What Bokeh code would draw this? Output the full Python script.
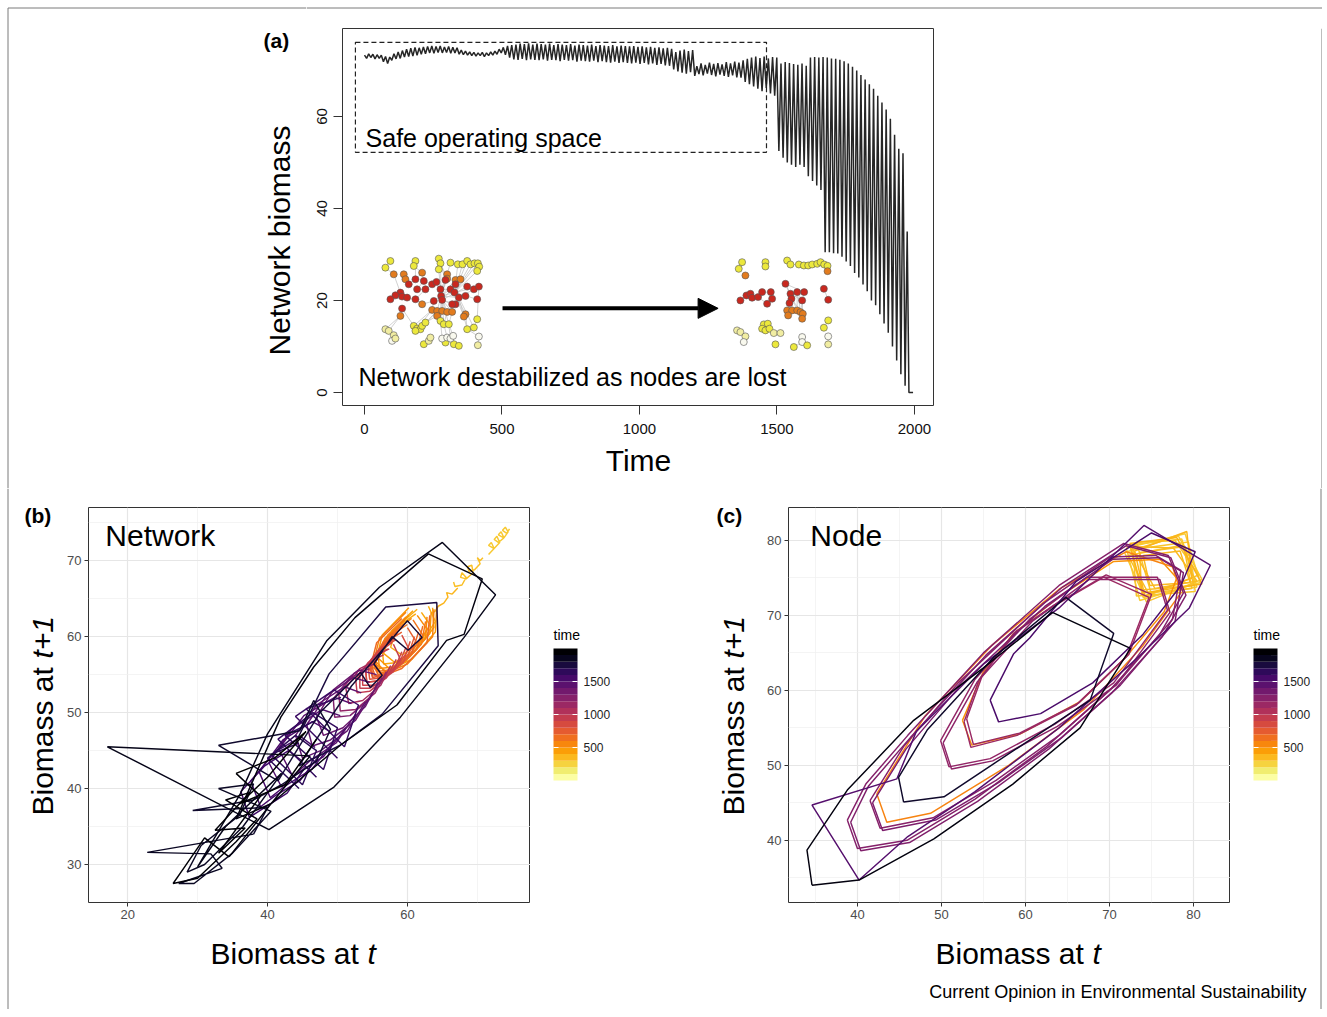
import numpy as np
from bokeh.plotting import figure
from bokeh.models import (Range1d, FixedTicker, Label, Arrow, NormalHead, ColumnDataSource,
                          BoxAnnotation, Span)
from bokeh.layouts import column, row
from bokeh.palettes import Inferno256
from bokeh.transform import linear_cmap
from bokeh.core.properties import value
from bokeh.embed import file_html
from bokeh.resources import INLINE

FONT = "Liberation Sans"

# ---------------- Panel (a): network biomass time series ----------------
a_start = 73.3
segA_trough = [72.6,72.8,72.5,72.6,71.9,71.5,72.2,72.5,72.6,72.9,73.0,73.1,73.3,73.5,73.6,73.8,73.7,73.9,
               73.8,73.9,73.7,73.8,73.5,73.4,73.3,73.2,73.1,73.2,73.0,73.2,73.3,73.5,73.8,73.4,72.8]
segA_peak = [73.6,73.5,73.4,73.3,73.0,72.9,73.6,74.0,74.3,74.6,74.8,75.0,74.9,75.1,75.2,75.3,75.2,75.3,
             75.1,75.2,75.0,74.9,74.4,74.2,74.0,73.9,73.8,73.9,73.8,74.0,74.2,74.6,75.0,75.3,75.5]
segB_trough = [72.4,72.3,72.5,72.2,72.4,72.3,72.2,72.4,72.1,72.3,72.2,72.0,72.3,72.1,72.2,71.9,72.1,72.0,71.9,
               72.1,71.8,72.0,71.8,71.7,71.9,71.6,71.8,71.6,71.5,71.7,71.4,71.6,71.3,71.5,71.2,71.4,71.1,71.0]
segB_peak = [75.6,75.8,75.7,75.9,75.6,75.8,75.7,75.6,75.8,75.5,75.7,75.6,75.5,75.7,75.4,75.6,75.5,75.4,75.6,
             75.3,75.5,75.4,75.3,75.5,75.2,75.4,75.3,75.2,75.3,75.1,75.2,75.0,75.1,74.9,75.0,74.8,74.9,74.7]
segC_trough = [70.2,69.8,69.5,69.3,69.6]
segC_peak = [74.0,74.3,74.5,74.2,74.4]
segD_trough = [68.8,69.2,68.9,69.3,69.0,68.7,69.1,68.8,68.6,68.9,68.5,68.4]
segD_peak = [70.9,71.5,71.2,71.7,71.4,71.6,71.3,71.8,71.5,71.9,71.7,72.2]
segE_trough = [67.5,67.0,66.5,66.0,65.5,66.2,65.0,64.5]
segE_peak = [72.5,72.8,73.0,72.7,73.0,72.6,72.9,72.8]
segF_trough = [52.5,51.0,50.0,49.5,49.0,49.5,49.0,47.0,46.0,45.0,44.0,30.5,30.5,30.3,30.2,29.5,28.5,27.5,
               26.0,25.0,23.5,22.0,20.0,19.0,17.0,15.0,13.0,10.0,7.0,4.0,1.5]
segF_peak = [71.5,71.8,71.6,71.4,71.2,71.5,71.0,72.8,72.9,72.8,72.9,72.8,72.6,72.5,72.3,72.0,71.5,70.8,
             70.0,69.0,68.0,67.0,66.0,64.5,63.0,61.5,59.5,56.0,53.0,52.0,35.0]
HALF_STEP = 7.65
a_end_time = [1980, 1995]
a_end_val = [0.0, 0.0]

a_vals = [a_start]
for tr, pk in [(segA_trough, segA_peak), (segB_trough, segB_peak), (segC_trough, segC_peak),
               (segD_trough, segD_peak), (segE_trough, segE_peak), (segF_trough, segF_peak)]:
    for lo, hi in zip(tr, pk):
        a_vals += [lo, hi]
a_time = list(np.arange(len(a_vals)) * HALF_STEP) + a_end_time
a_vals = a_vals + a_end_val

a_xticks = [0, 500, 1000, 1500, 2000]
a_yticks = [0, 20, 40, 60]

# network layouts (layout units) and node classes
net1_lx = [60,45,135,130,205,210,240,262,276,290,300,312,322,326,320,205,
           70,100,105,155,230,230,255,270,
           115,135,160,185,198,225,210,255,290,310,325,90,95,75,60,110,140,165,190,212,
           215,240,252,255,245,265,285,320,135,95,
           155,90,185,200,215,230,245,285,280,200,
           210,220,235,130,140,150,135,155,290,310,320,
           45,55,70,65,75, 160,175,180,225,250,265, 215,230,240,248,325, 322,165]
net1_ly = [35,55,35,50,28,42,40,45,45,35,45,42,42,52,65,60,
           75,75,90,70,75,88,92,90,
           105,90,95,105,98,92,120,105,112,120,112,130,142,138,150,145,120,120,155,140,
           152,120,130,165,165,145,140,150,150,178,
           165,200,182,185,185,188,188,195,202,200,
           215,225,225,230,238,240,245,230,240,235,210,
           240,245,258,275,268, 285,275,265,280,285,290, 268,265,268,260,262, 288,220]
net1_cls = "Y"*16 + "O"*8 + "R"*30 + "O"*10 + "Y"*11 + "PPPWP" + "YPPYYY" + "WWWWW" + "P" + "Y"
net1_edges = [(44,21),(44,30),(44,46),(44,47),(44,50),(44,58),(44,59),(44,60),(44,65),(44,16),(44,6),(44,29),
              (44,43),(44,31),(45,48),(45,61),(45,66),(45,67),(45,24),(45,33),(47,8),(47,9),(47,10),(47,11),
              (47,12),(47,13),(47,15),(47,62),(47,63),(47,51),(47,52),(50,73),(50,74),(50,34),(30,5),(30,7),
              (22,6),(25,18),(25,19),(26,3),(26,20),(27,41),(28,42),(36,37),(36,38),(36,17),(39,40),(40,53),
              (53,55),(54,56),(54,68),(56,76),(56,77),(57,68),(57,69),(58,70),(58,72),(64,93),(65,87),(66,88),
              (67,89),(67,90),(73,91),(74,75),(75,35),(78,79),(78,80),(76,78),(81,82),(82,83),(84,87),(85,86),
              (86,89),(62,73),(33,34),(1,2),(3,4),(17,2),(20,27),(42,53),(43,57),(49,61),(48,60),(91,92),
              (12,14),(9,8),(10,11),(69,71),(68,70),(4,20),(44,22),(44,23),(45,49),(47,32),(47,35),(30,31),
              (41,42),(27,28),(31,46),(46,32),(43,55),(59,65),(60,66),(61,67)]
net2_lx = [1110,1120,1190,1190,1255,1265,1290,1305,1318,1330,1345,1355,1366,1376,1376,1130,
           1115,1133,1145,1150,1168,1180,1206,1195,1210,
           1250,1265,1268,1285,1306,1300,1262,
           1255,1270,1285,1295,1302,1258,1300,
           1365,1378,1378,1365,1378,1378,
           1105,1115,1130,1125,
           1185,1197,1180,1190,1202,1215,1235,1220,1275,1300,1300,1315]
net2_ly = [55,35,35,48,30,42,42,45,45,42,40,35,42,46,62,75,
           150,135,130,142,140,125,125,160,145,
           100,130,145,125,125,150,158,
           180,180,180,185,190,195,205,
           115,148,210,232,258,282,
           240,245,258,275,
           222,220,235,240,235,248,248,282,290,260,275,285]
net2_cls = "Y"*14 + "OO" + "R"*16 + "O"*7 + "RR" + "YY" + "W" + "P" + "PPP" + "W" + "Y"*5 + "PP" + "YY" + "WW" + "Y"
net2_edges = [(1,2),(3,4),(5,6),(6,7),(7,8),(8,9),(9,10),(10,11),(11,12),(12,13),(13,14),(14,15),(11,14),(10,14),
              (17,18),(18,19),(19,20),(20,21),(21,22),(22,23),(23,25),(24,21),(24,25),(19,21),(26,27),(26,28),
              (27,29),(28,30),(29,31),(27,31),(28,32),(32,33),(28,34),(29,35),(30,36),(31,37),(27,38),(29,39),
              (33,34),(34,35),(35,36),(40,41),(42,43),(44,45),(46,47),(47,48),(48,49),(50,51),(51,52),(52,53),
              (53,54),(54,55),(55,56),(50,54),(59,60),(60,61),(58,60),(26,30),(27,35),(28,37)]
NODE_COLORS = {"Y": "#ece83c", "O": "#e27b1d", "R": "#c9281f", "P": "#f1eda2", "W": "#f9f9ee"}

# ---------------- Panel (b): network lag plot ----------------
# biomass cycles (consecutive values); x = B(t), y = B(t+1)
b_cycles = [
    [74.6,74.2,73.6,74.0,74.4,73.8,73.0,73.4,73.8,73.0,72.4,72.8,73.2,72.4,71.6,72.0,72.4,71.6,70.8],
    [70.8,70.4,70.0,70.4,69.6,68.8,68.6,69.2,69.4,68.4,67.6,67.8,68.4,67.8,66.8,66.6,67.2],
    [67.2,66.4,65.6,65.8,65.2,64.4,64.0,63.4,63.0],
    [63.0,64.0,62.0,59.2,57.6,58.6,61.4,63.6],
    [62.0,63.2,61.6,58.6,56.6,56.4,58.4,61.2,63.0],
    [63.6,63.8,61.2,58.2,56.6,57.8,60.8,63.4],
    [64.2,64.0,60.6,57.0,55.4,56.4,60.2,63.8],
    [63.4,63.2,60.4,57.4,55.8,57.2,60.2,62.8],
    [61.4,62.8,61.0,58.0,56.0,55.8,57.8,60.6,62.4],
    [62.8,62.6,59.8,56.8,55.4,56.8,59.8,62.6],
    [63.8,63.6,60.0,56.4,55.0,56.0,59.8,63.2],
    [62.6,62.0,59.0,56.2,55.2,56.8,59.6,62.2],
    [60.8,62.2,60.2,57.4,55.6,55.4,57.4,60.0,61.6],
    [62.2,61.4,58.4,55.8,55.0,56.6,59.4,61.6],
    [63.2,62.8,59.2,55.8,54.6,55.6,59.2,62.4],
    [61.6,60.6,57.8,55.4,54.8,56.4,59.0,61.0],
    [60.0,61.2,59.4,56.6,55.0,54.8,56.8,59.2,60.6],
    [61.0,60.0,57.2,55.0,54.6,56.2,58.6,60.4],
    [60.4,59.4,56.6,54.6,54.4,56.0,58.2,59.8],
    [59.2,60.2,58.4,55.8,54.2,54.0,56.0,58.4,59.6],
    [59.8,58.6,56.0,54.2,54.0,55.6,57.8,59.2],
    [59.2,58.0,55.4,53.6,53.6,55.2,57.2,58.4],
    [58.0,59.0,57.0,54.6,53.2,53.2,55.2,57.4,58.4],
    [58.4,57.0,54.6,52.8,52.6,54.4,56.6,57.6],
    [57.6,56.2,53.6,51.6,51.2,53.2,55.8,57.0],
    [57.0,55.4,52.6,50.4,50.2,52.4,55.2,56.4],
    [56.4,54.6,51.8,49.6,49.4,51.8,54.6,55.8],
    [55.8,54.0,50.8,48.0,47.0,49.4,53.0,55.6,55.0],
    [55.0,52.6,49.0,46.4,45.6,48.4,52.2,54.6,54.0],
    [54.0,51.4,47.6,45.0,44.0,47.0,51.0,53.4,52.6],
    [52.6,49.8,46.0,43.6,41.6,45.2,49.6,52.0,51.2],
    [51.2,48.0,44.2,42.0,40.2,43.4,47.8,50.4,49.6],
    [49.6,46.4,42.6,40.4,38.8,42.2,46.4,48.8,47.6],
    [47.6,44.6,41.0,39.0,37.6,41.0,44.8,46.8,45.4],
    [45.4,42.8,39.4,37.4,36.2,39.6,43.0,45.0,43.6],
    [50.0,44.0,49.5,53.0,51.0,45.5,50.5,52.0],
    [47.0,41.5,46.5,50.0,48.0,42.5,47.0,49.0],
    [44.5,40.0,44.0,47.0,45.0,40.5,44.5,46.0],
]
b_cycle_t = [250,290,330, 360,390,415,440,470,500,525,550,580,610,635,660,690,720,745,800,830,855,910,940,965,
             1100,1200,1300, 1400,1430,1460,1490,1520,1550,1580,1610,1640,1670,1700]
b_black_x = [
    [44.0,48.8,56.9,64.2,64.4,56.4,50.4,44.5],
    [44.5,52.0,60.0,62.1,60.1,57.8,55.2,56.4,54.7,53.3,47.5,41.5],
    [41.5,33.0,44.6,46.6,49.0,47.0,42.0,38.0,29.3,40.0,38.0],
    [38.0,22.8,31.9,33.5,27.3,29.5,35.0,40.5,33.0,38.0,36.0,30.5,28.5,31.0,36.5,42.0],
    [42.0,34.0,30.0,36.1,40.0,44.2,48.5,56.0,65.0,72.6,68.1,59.0,49.5,40.2,17.1,46.1],
    [46.1,40.5,35.5,41.9,46.6,52.5,63.0,70.7,68.1,65.6,58.5,50.4,40.5,34.5],
    [34.5,31.0,28.0,26.5,30.0,35.5,38.5,34.0,37.5,32.5,36.8,33.0,39.0,35.5],
    [35.5,41.0,45.5,40.0,36.0,42.5,47.0],
]
b_black_y = [
    [46.0,55.1,63.9,64.5,58.8,49.8,45.7,43.0],
    [43.0,53.5,62.1,59.9,58.2,60.0,56.4,54.9,53.3,55.3,50.0,41.0],
    [41.0,45.7,47.6,51.6,47.8,43.6,40.5,38.5,37.1,37.5,34.0],
    [34.0,31.6,31.4,29.5,27.5,27.5,31.5,37.0,40.0,40.6,36.5,32.5,29.0,30.0,35.0,42.0],
    [42.0,35.0,29.7,39.3,47.2,53.3,59.5,66.5,72.4,65.5,59.9,49.4,40.2,34.6,45.5,44.3],
    [44.3,38.0,36.0,49.4,56.0,62.5,70.9,67.6,60.3,59.5,51.0,45.7,38.0,31.0],
    [31.0,33.5,29.5,27.5,28.2,33.0,36.0,38.5,39.5,34.5,34.8,31.5,39.0,42.0],
    [42.0,44.0,47.5,41.5,38.0,40.5,46.5],
]
b_black_t = [1780,1810,1840,1870,1910,1950,1975,1995]

# ---------------- Panel (c): node lag plot ----------------
c_x = [
    [72.0,79.0,80.8,73.6,72.0],[72.4,78.6,80.4,74.0,72.4],[71.8,78.2,81.0,74.4,71.8],
    [72.8,79.4,80.2,73.2,72.8],[73.2,77.8,80.6,75.0,73.2],[72.2,78.8,79.8,74.6,72.2],
    [73.6,79.0,80.0,73.8,73.6],[72.6,77.6,80.4,75.4,72.6],[74.0,78.4,79.6,74.8,74.0],
    [73.0,79.2,79.8,74.2,73.0],[72.4,78.0,81.0,74.0,72.4],
    [52.5,53.6,59.4,66.5,72.0,76.5,78.0,76.0,70.5,64.0,58.5,55.0,52.5],
    [42.3,43.5,48.7,58.0,67.0,74.0,78.5,77.5,72.0,64.0,56.0,48.0,42.3],
    [52.7,53.5,59.0,66.0,72.0,74.7,69.3,63.0,58.6,54.5,52.7],
    [53.0,53.8,59.3,66.3,72.3,75.0,69.6,63.3,58.9,54.8,53.0],
    [49.9,50.9,55.8,63.5,70.5,76.9,75.7,67.3,60.5,54.0,49.9],
    [50.2,51.2,56.1,63.8,70.8,77.2,76.0,67.6,60.8,54.3,50.2],
    [41.5,42.7,49.0,56.5,64.0,71.0,77.5,78.5,75.5,70.1,62.0,52.0,45.5,41.5],
    [38.8,40.0,45.9,54.0,62.5,70.0,76.0,78.8,77.0,71.7,64.0,55.0,46.0,41.0,38.8],
    [39.2,40.4,46.2,54.3,62.8,70.3,76.3,79.1,77.3,72.0,64.3,55.3,46.3,41.3,39.2],
    [41.8,43.0,49.3,56.8,64.3,71.3,77.8,78.8,75.8,70.4,62.3,52.3,45.8,41.8],
    [40.2,34.6,44.7,47.0,55.0,64.0,74.1,82.0,79.5,73.0,64.0,54.0,46.0,40.2],
    [55.8,56.8,61.8,68.0,74.0,78.5,80.2,75.0,66.0,60.5,58.6,55.8],
    [45.5,50.3,56.2,67.7,70.5,64.8,56.2,48.3,44.9,45.5],
    [34.6,40.2,49.1,58.5,66.5,72.5,63.2,55.0,46.7,38.8,34.0,34.6],
]
c_y = [
    [79.0,80.9,74.4,72.0,79.0],[79.4,80.2,73.8,72.4,79.4],[78.4,80.6,74.8,71.8,78.4],
    [78.8,79.8,73.2,72.6,78.8],[79.8,80.0,75.4,72.8,79.8],[78.0,79.4,73.6,73.0,78.0],
    [78.4,79.2,74.0,73.4,78.4],[79.2,79.0,74.6,73.6,79.2],[78.0,78.6,74.4,74.0,78.0],
    [78.6,81.2,75.0,72.6,78.6],[79.6,80.4,74.2,73.0,79.6],
    [56.0,52.7,54.2,58.5,64.5,70.5,75.0,77.5,77.2,72.5,67.5,62.5,56.0],
    [46.2,42.4,43.6,50.0,57.5,66.0,73.0,76.5,78.5,73.5,66.0,56.5,46.2],
    [55.8,52.4,54.0,58.0,64.5,72.4,75.1,71.0,67.6,61.5,55.8],
    [56.2,52.8,54.3,58.3,64.8,72.8,75.4,71.3,67.9,61.8,56.2],
    [53.3,49.8,50.9,55.5,61.0,70.7,75.1,75.1,69.5,61.5,53.3],
    [53.0,49.5,50.6,55.2,60.7,70.4,74.8,74.8,69.2,61.2,53.0],
    [45.3,41.6,43.0,48.0,54.0,61.0,69.5,76.0,78.0,77.8,71.5,61.0,52.5,45.3],
    [42.7,38.9,40.0,45.5,52.5,60.0,67.5,73.0,78.0,79.6,74.0,65.0,54.0,47.5,42.7],
    [42.4,38.6,39.7,45.2,52.2,59.7,67.2,72.7,77.7,79.3,73.7,64.7,53.7,47.2,42.4],
    [45.0,41.3,42.7,47.7,53.7,60.7,69.2,75.7,77.7,77.5,71.2,60.7,52.2,45.0],
    [34.7,44.7,48.2,54.5,63.5,71.0,82.0,76.7,71.0,64.0,55.0,46.5,40.5,34.7],
    [58.7,55.8,56.9,61.0,67.5,74.0,78.5,81.0,74.5,67.0,64.9,58.7],
    [45.1,45.8,50.2,58.7,67.6,72.4,64.4,54.7,48.4,45.1],
    [34.0,34.7,40.2,47.5,55.0,65.6,70.4,63.0,56.0,46.7,38.7,34.0],
]
c_t = [240,250,260,270,280,290,300,310,320,330,340, 480,540,
       1150,1170,1200,1220,1250,1270,1290,1310, 1500,1560, 1850,1950]

b_xticks, b_xminor = [20, 40, 60], [30, 50, 70]
b_yticks, b_yminor = [30, 40, 50, 60, 70], [35, 45, 55, 65, 75]
c_xticks, c_xminor = [40, 50, 60, 70, 80], [35, 45, 55, 65, 75, 85]
c_yticks, c_yminor = [40, 50, 60, 70, 80], [35, 45, 55, 65, 75, 85]
cbar_ticks = [500, 1000, 1500]
TIME_LOW, TIME_HIGH = 0, 2000
N_BANDS = 20

BORDER = "#7a7a7a"


def add_text(p, x, y, text, size, align="left", baseline="middle", angle=0, style="normal", color="black"):
    p.add_layout(Label(x=x, y=y, text=text, text_font=FONT, text_font_size=size, text_align=align,
                       text_baseline=baseline, angle=angle, text_font_style=style, text_color=color))


def text_panel(w, h, yr=None, top=0, bottom=0):
    """A bare figure (no axes); by default coordinates are pixels from its frame's top-left corner."""
    p = figure(frame_width=w, frame_height=h, min_border=0, min_border_top=top, min_border_bottom=bottom,
               x_axis_location=None, y_axis_location=None,
               x_range=Range1d(0, w), y_range=Range1d(h, 0) if yr is None else yr,
               output_backend="svg", toolbar_location=None)
    p.outline_line_color = None
    p.grid.visible = False
    return p


# ======================= panel (a) =======================
pa = figure(frame_width=592, frame_height=377, min_border_left=36, min_border_right=0,
            min_border_top=0, min_border_bottom=83,
            x_range=Range1d(-80, 2073), y_range=Range1d(-2.8, 79.1),
            output_backend="svg", toolbar_location=None)
pa.grid.visible = False
pa.outline_line_color = "#333333"
pa.outline_line_width = 1
for ax in (pa.xaxis[0], pa.yaxis[0]):
    ax.axis_line_color = None
    ax.major_tick_out = 9
    ax.major_tick_in = 0
    ax.minor_tick_line_color = None
    ax.major_tick_line_color = "#333333"
    ax.major_label_text_font = FONT
    ax.major_label_text_font_size = "15px"
    ax.major_label_text_color = "#111111"
pa.xaxis.ticker = FixedTicker(ticks=a_xticks)
pa.yaxis.ticker = FixedTicker(ticks=a_yticks)
pa.xaxis.major_label_standoff = 9
pa.yaxis.major_label_standoff = 6
pa.yaxis.major_label_orientation = "vertical"
pa.xaxis.axis_label = "Time"
pa.xaxis.axis_label_text_font = FONT
pa.xaxis.axis_label_text_font_size = "30px"
pa.xaxis.axis_label_text_font_style = "normal"
pa.xaxis.axis_label_text_color = "black"
pa.xaxis.axis_label_standoff = 7

pa.line(a_time, a_vals, line_color="#262626", line_width=1.5)
pa.add_layout(BoxAnnotation(left=-33, right=1462, bottom=52.2, top=76.1, fill_alpha=0, line_alpha=1,
                            line_color="#222222", line_width=1.2, line_dash="5 3"))

NET_SCALE = (1.214, 0.0723)
for lx, ly, cls, edges, x0, y0 in [(net1_lx, net1_ly, net1_cls, net1_edges, 76, 29.1),
                                   (net2_lx, net2_ly, net2_cls, net2_edges, 1355, 28.7)]:
    mx, my = min(lx), min(ly)
    nx = [x0 + (v - mx) * NET_SCALE[0] for v in lx]
    ny = [y0 - (v - my) * NET_SCALE[1] for v in ly]
    pa.multi_line([[nx[i - 1], nx[j - 1]] for i, j in edges], [[ny[i - 1], ny[j - 1]] for i, j in edges],
                  line_color="#bdbdbd", line_width=0.7)
    pa.scatter(nx, ny, size=7, fill_color=[NODE_COLORS[c] for c in cls], line_color="#555555",
               line_width=0.6)

pa.add_layout(Arrow(end=NormalHead(size=20, fill_color="black", line_color="black"),
                    x_start=502, y_start=18.3, x_end=1286, y_end=18.3, line_width=4, line_color="black"))
add_text(pa, 4, 55.4, "Safe operating space", "25px")
add_text(pa, -22, 3.4, "Network destabilized as nodes are lost", "25px")

ta_left = text_panel(306, 488)
add_text(ta_left, 263, 40, "(a)", "21px", style="bold")
add_text(ta_left, 279, 240, "Network biomass", "30px", align="center", angle=np.pi / 2)
ta_left.segment(x0=[7.5, 7.5], y0=[7.5, 7.5], x1=[7.5, 306], y1=[488, 7.5], line_color=BORDER, line_width=1)
ta_top = text_panel(1016, 28)
ta_top.add_layout(Span(location=7.5, dimension="width", line_color=BORDER, line_width=1))
ta_right = text_panel(388, 460)
ta_right.add_layout(Span(location=387.5, dimension="height", line_color=BORDER, line_width=1))

# ======================= panels (b), (c) =======================
line_palette = list(Inferno256[::-1])
bar_palette = [line_palette[int(round(i))] for i in np.linspace(0, 255, N_BANDS)]


def phase_fig(xr, yr, bl, xt, xm, yt, ym):
    p = figure(frame_width=442, frame_height=395, min_border_left=bl, min_border_right=0,
               min_border_top=19, min_border_bottom=24,
               x_range=Range1d(*xr), y_range=Range1d(*yr),
               output_backend="svg", toolbar_location=None)
    p.outline_line_color = "#333333"
    p.outline_line_width = 1
    xtk = FixedTicker(ticks=xt, minor_ticks=xm)
    ytk = FixedTicker(ticks=yt, minor_ticks=ym)
    p.xaxis.ticker = xtk
    p.yaxis.ticker = ytk
    p.xgrid.ticker = xtk
    p.ygrid.ticker = ytk
    for g in (p.xgrid[0], p.ygrid[0]):
        g.grid_line_color = "#e6e6e6"
        g.grid_line_width = 1.2
        g.minor_grid_line_color = "#efefef"
        g.minor_grid_line_width = 0.7
    for ax in (p.xaxis[0], p.yaxis[0]):
        ax.axis_line_color = None
        ax.major_tick_out = 4
        ax.major_tick_in = 0
        ax.minor_tick_line_color = None
        ax.major_tick_line_color = "#333333"
        ax.major_label_text_font = FONT
        ax.major_label_text_font_size = "13px"
        ax.major_label_text_color = "#4d4d4d"
        ax.major_label_standoff = 3
    return p


def draw_paths(p, xs, ys, ts):
    src = ColumnDataSource(dict(xs=xs, ys=ys, t=ts))
    p.multi_line("xs", "ys", source=src, line_width=1.45,
                 line_color=linear_cmap("t", line_palette, TIME_LOW, TIME_HIGH))


def cbar_panel(w):
    # same vertical borders as the phase plots; the bar spans TIME_LOW..TIME_HIGH over 132 px,
    # from 141 px to 273 px below the frame top (395 px tall frame)
    per_px = (TIME_HIGH - TIME_LOW) / 132
    p = text_panel(w, 395, yr=Range1d(TIME_LOW - 122 * per_px, TIME_HIGH + 141 * per_px), top=19, bottom=24)
    edges = np.linspace(TIME_LOW, TIME_HIGH, N_BANDS + 1)
    p.quad(left=23, right=47, bottom=edges[:-1], top=edges[1:], fill_color=bar_palette, line_color=None)
    p.segment(x0=23, x1=28, y0=cbar_ticks, y1=cbar_ticks, line_color="white", line_width=1)
    p.segment(x0=42, x1=47, y0=cbar_ticks, y1=cbar_ticks, line_color="white", line_width=1)
    p.text(x=53, y=cbar_ticks, text=[str(t) for t in cbar_ticks], text_font=value(FONT),
           text_font_size="12px", text_baseline="middle", text_color="#222222")
    add_text(p, 23, TIME_HIGH + 14 * per_px, "time", "14px")
    return p


pb = phase_fig((14.4, 77.6), (25.0, 77.0), 26, b_xticks, b_xminor, b_yticks, b_yminor)
bxs = [c[:-1] for c in b_cycles] + b_black_x
bys = [c[1:] for c in b_cycles] + b_black_y
draw_paths(pb, bxs, bys, b_cycle_t + b_black_t)
add_text(pb, 16.8, 73.3, "Network", "30px")
cb_b = cbar_panel(134)

tb_left = text_panel(62, 521)
add_text(tb_left, 24, 27, "(b)", "21px", style="bold")
add_text(tb_left, 42, 327, "Biomass at", "30px", angle=np.pi / 2)
add_text(tb_left, 42, 170, "t+1", "30px", angle=np.pi / 2, style="italic")
tb_left.add_layout(Span(location=7.5, dimension="height", line_color=BORDER, line_width=1))
tb_bottom = text_panel(602, 83)
add_text(tb_bottom, 148, 27, "Biomass at", "30px")
add_text(tb_bottom, 305, 27, "t", "30px", style="italic")

pc = phase_fig((31.8, 84.4), (31.7, 84.4), 32, c_xticks, c_xminor, c_yticks, c_yminor)
draw_paths(pc, c_x, c_y, c_t)
add_text(pc, 34.4, 80.7, "Node", "30px")
cb_c = cbar_panel(89)

tc_left = text_panel(92, 521)
add_text(tc_left, 52, 27, "(c)", "21px", style="bold")
add_text(tc_left, 69, 327, "Biomass at", "30px", angle=np.pi / 2)
add_text(tc_left, 69, 170, "t+1", "30px", angle=np.pi / 2, style="italic")
tc_bottom = text_panel(563, 83)
add_text(tc_bottom, 179, 27, "Biomass at", "30px")
add_text(tc_bottom, 336, 27, "t", "30px", style="italic")
add_text(tc_bottom, 550, 65, "Current Opinion in Environmental Sustainability", "18px", align="right")
right_edge = text_panel(3, 521)
right_edge.add_layout(Span(location=1.5, dimension="height", line_color=BORDER, line_width=1))

top = row(ta_left, column(ta_top, row(pa, ta_right)))
bottom = row(tb_left, column(row(pb, cb_b), tb_bottom), tc_left, column(row(pc, cb_c), tc_bottom), right_edge)
layout = column(top, bottom)
open("out.html", "w").write(file_html(layout, INLINE))
